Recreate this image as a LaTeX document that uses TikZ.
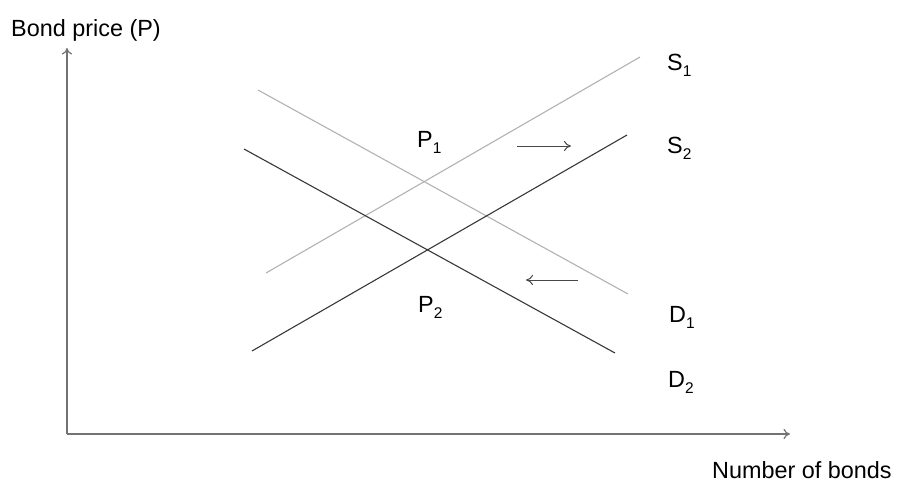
\documentclass[tikz,border=0pt]{standalone}
\usepackage{fontspec}
\setmainfont{Liberation Sans}
\usetikzlibrary{arrows.meta}
\newcommand{\sbs}[1]{\raisebox{-0.28em}{\fontsize{15.5}{15.5}\selectfont #1}}
\begin{document}
\begin{tikzpicture}[x=1pt,y=-1pt,
  lbl/.style={anchor=base west,inner sep=0pt,font=\fontsize{23.4}{27}\selectfont,text=black},
  axis/.style={draw=black!55,line width=1.2pt,-{To[length=6.5pt,width=10pt]}},
  light/.style={draw=black!30,line width=1.1pt},
  dark/.style={draw=black!78,line width=1.1pt},
  movearrow/.style={draw=black!72,line width=1pt,-{To[length=7pt,width=10pt]}}]
\useasboundingbox (0,0) rectangle (900,482);
% axes
\coordinate (O) at (67,434);
\coordinate (ytop) at (67,48);
\coordinate (xend) at (790,434);
\draw[axis] (O) -- (ytop);
\draw[axis] (O) -- (xend);
% curves
\coordinate (s1a) at (266,273); \coordinate (s1b) at (640,57);
\coordinate (s2a) at (252,351); \coordinate (s2b) at (627,135);
\coordinate (d1a) at (258,90);  \coordinate (d1b) at (628,294);
\coordinate (d2a) at (244,149); \coordinate (d2b) at (615,353);
\draw[light] (s1a) -- (s1b);
\draw[light] (d1a) -- (d1b);
\draw[dark] (s2a) -- (s2b);
\draw[dark] (d2a) -- (d2b);
% shift arrows
\coordinate (r1) at (517,146); \coordinate (r2) at (571,146);
\coordinate (l1) at (578,280); \coordinate (l2) at (526,280);
\draw[movearrow] (r1) -- (r2);
\draw[movearrow] (l1) -- (l2);
% labels
\node[lbl] (ylab) at (11,36) {Bond price (P)};
\node[lbl] (xlab) at (712,478) {Number of bonds};
\node[lbl] (S1) at (667,70) {S\sbs{1}};
\node[lbl] (S2) at (667,153) {S\sbs{2}};
\node[lbl] (P1) at (417,147) {P\sbs{1}};
\node[lbl] (P2) at (418,312) {P\sbs{2}};
\node[lbl] (D1) at (669,322) {D\sbs{1}};
\node[lbl] (D2) at (668,387) {D\sbs{2}};
\end{tikzpicture}
\end{document}
